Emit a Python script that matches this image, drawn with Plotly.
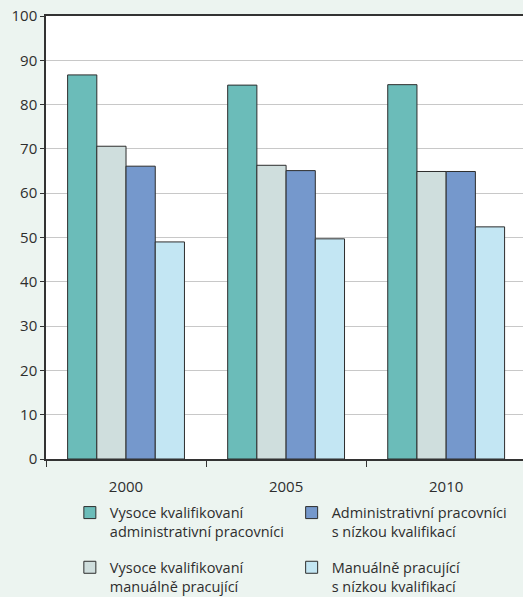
import plotly.graph_objects as go

years = ["2000", "2005", "2010"]
series_names = [
    "Vysoce kvalifikovaní<br>administrativní pracovníci",
    "Vysoce kvalifikovaní<br>manuálně pracující",
    "Administrativní pracovníci<br>s nízkou kvalifikací",
    "Manuálně pracující<br>s nízkou kvalifikací",
]
high_admin = [86.7, 84.4, 84.5]
high_manual = [70.6, 66.3, 64.9]
low_admin = [66.1, 65.1, 64.9]
low_manual = [49.0, 49.7, 52.4]
y_ticks = [0, 10, 20, 30, 40, 50, 60, 70, 80, 90, 100]

colors = ["#6bbcb9", "#cfdedd", "#7598cc", "#c3e6f3"]
values = [high_admin, high_manual, low_admin, low_manual]
legends = ["legend", "legend", "legend2", "legend2"]

font_family = "Open Sans, Noto Sans, sans-serif"
text_color = "#2e2e2e"

fig = go.Figure()
for i, (name, vals) in enumerate(zip(series_names, values)):
    fig.add_trace(go.Bar(
        x=years, y=vals, name=name,
        marker=dict(color=colors[i], line=dict(color="#2d2d2d", width=1)),
        legend=legends[i], legendgroup=str(i),
    ))

legend_style = dict(
    orientation="v", yanchor="top", xanchor="left",
    bgcolor="rgba(0,0,0,0)", valign="top", tracegroupgap=14,
    font=dict(family=font_family, size=14.5, color=text_color),
    itemwidth=30,
)

fig.update_layout(
    width=523, height=597,
    margin=dict(l=46, r=0, t=16, b=138, autoexpand=False),
    paper_bgcolor="#ecf4f0", plot_bgcolor="#ffffff",
    barmode="group", bargap=0.27, bargroupgap=0,
    font=dict(family=font_family, size=15, color=text_color),
    legend=dict(x=0.05, y=-0.085, **legend_style),
    legend2=dict(x=0.515, y=-0.085, **legend_style),
    xaxis=dict(
        range=[-0.5, 2.48], showline=True, linecolor="#333333", linewidth=1.5,
        mirror=True, ticks="outside", tickson="boundaries", ticklen=6,
        tickcolor="#333333", showgrid=False, fixedrange=True,
        ticklabelstandoff=13,
    ),
    yaxis=dict(
        range=[0, 100], tickvals=y_ticks, showline=True, linecolor="#333333",
        linewidth=1.5, ticks="outside", ticklen=4, tickcolor="#333333",
        gridcolor="#c8c8c8", gridwidth=1, zeroline=False, fixedrange=True,
    ),
)

fig.write_html("out.html")
